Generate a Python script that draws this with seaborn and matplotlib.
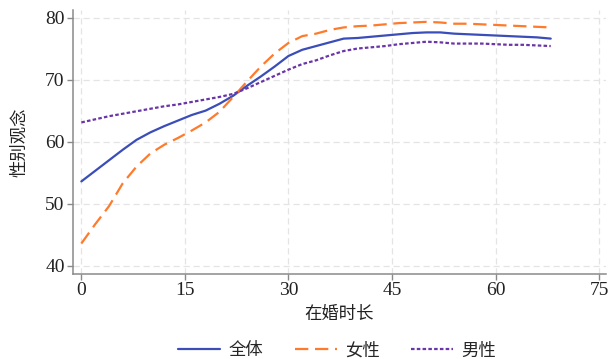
import numpy as np
import pandas as pd
import matplotlib
matplotlib.use("Agg")
import matplotlib.pyplot as plt
import seaborn as sns

years = [0, 2, 4, 6, 8, 10, 12, 14, 16, 18, 20, 22, 24, 26, 28, 30, 32, 34,
         36, 38, 40, 42, 44, 46, 48, 50, 52, 54, 56, 58, 60, 62, 64, 66, 68]
total = [53.6, 55.3, 57.0, 58.7, 60.3, 61.5, 62.5, 63.4, 64.3, 65.0, 66.1, 67.4,
         69.0, 70.5, 72.1, 73.8, 74.8, 75.4, 76.0, 76.6, 76.7, 76.9, 77.1, 77.3,
         77.5, 77.6, 77.6, 77.4, 77.3, 77.2, 77.1, 77.0, 76.9, 76.8, 76.6]
female = [43.6, 46.7, 49.6, 53.3, 56.0, 58.1, 59.5, 60.6, 61.8, 63.1, 64.8, 67.2,
          69.7, 72.1, 74.2, 75.9, 77.0, 77.4, 78.0, 78.4, 78.6, 78.7, 78.9, 79.1,
          79.2, 79.3, 79.2, 79.0, 79.0, 78.9, 78.8, 78.7, 78.6, 78.5, 78.4]
male = [63.1, 63.6, 64.1, 64.5, 64.9, 65.3, 65.7, 66.0, 66.4, 66.8, 67.2, 67.7,
        68.6, 69.6, 70.6, 71.6, 72.5, 73.1, 73.9, 74.6, 75.0, 75.2, 75.4, 75.7,
        75.9, 76.1, 76.0, 75.8, 75.8, 75.8, 75.7, 75.6, 75.6, 75.5, 75.4]
series_names = ["全体", "女性", "男性"]
x_ticks = [0, 15, 30, 45, 60, 75]
y_ticks = [40, 50, 60, 70, 80]

sns.set_theme(style="white")
plt.rcParams['font.family'] = ['Liberation Serif', 'Noto Sans CJK SC', 'DejaVu Sans']

fig = plt.figure(figsize=(6.09, 3.59), dpi=100)
ax = fig.add_axes([0.12, 0.237, 0.875, 0.735])

colors = ["#3A4DB8", "#FF7A2A", "#6A35A8"]
dashes = [(None, None), (6, 3), (1.6, 1.0)]
for name, vals, c, d in zip(series_names, [total, female, male], colors, dashes):
    df = pd.DataFrame({"x": years, "y": vals})
    sns.lineplot(data=df, x="x", y="y", ax=ax, color=c, linewidth=1.6, label=name)
    ln = ax.lines[-1]
    if d[0] is not None:
        ln.set_dashes(d)

ax.set_xlim(-1.2, 76)
ax.set_ylim(38.7, 81.2)
ax.set_xticks(x_ticks)
ax.set_yticks(y_ticks)
ax.grid(True, color="#e4e4e4", linestyle=(0, (5, 3)), linewidth=0.9)
for s in ["top", "right"]:
    ax.spines[s].set_visible(False)
for s in ["left", "bottom"]:
    ax.spines[s].set_color("#8a8a8a")
    ax.spines[s].set_linewidth(1.1)
ax.tick_params(axis="both", which="both", direction="out", length=4, width=1,
               color="#8a8a8a", labelsize=14, labelcolor="#222222", pad=2,
               bottom=True, left=True)
ax.set_xlabel("在婚时长", fontsize=12.5, family=['Noto Sans CJK SC'], color="#222222", labelpad=4)
ax.set_ylabel("性别观念", fontsize=12.5, family=['Noto Sans CJK SC'], color="#222222", labelpad=12)

handles, labels = ax.get_legend_handles_labels()
ax.legend(handles, labels, loc="center", bbox_to_anchor=(0.496, -0.29),
          ncol=3, frameon=False, prop={'family': 'Noto Sans CJK SC', 'size': 12.5},
          handlelength=2.4, columnspacing=1.8, handletextpad=0.5)

fig.savefig("out.png", dpi=100)
